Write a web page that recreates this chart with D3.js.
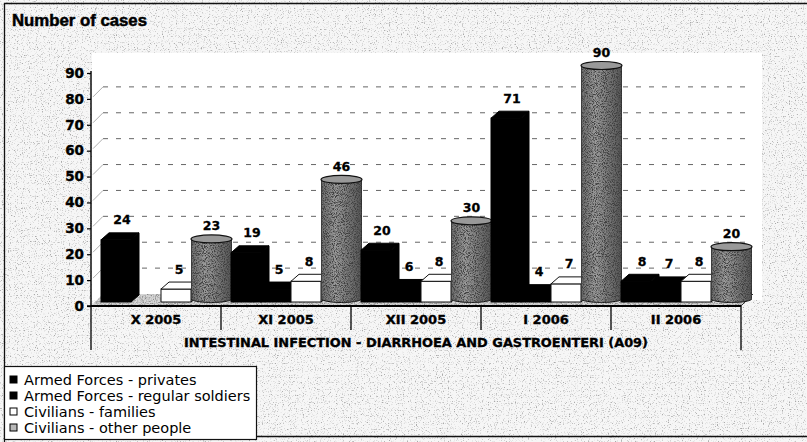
<!DOCTYPE html>
<html>
<head>
<meta charset="utf-8">
<script src="https://cdn.jsdelivr.net/npm/d3@7"></script>
<style>
  html, body { margin: 0; padding: 0; background: #fff; }
  svg { display: block; }
</style>
</head>
<body>
<div id="chart"></div>
<script>
// ---- data ----
const categories = ["X 2005", "XI 2005", "XII 2005", "I 2006", "II 2006"];
const seriesNames = [
  "Armed Forces - privates",
  "Armed Forces - regular soldiers",
  "Civilians - families",
  "Civilians - other people"
];
const privates        = [24, 19, 20, 71, 8];
const regularSoldiers = [null, 5, 6, 4, 7];
const families        = [5, 8, 8, 7, 8];
const otherPeople     = [23, 46, 30, 90, 20];
const yTicks = [0, 10, 20, 30, 40, 50, 60, 70, 80, 90];
const yTitle = "Number of cases";
const xTitle = "INTESTINAL INFECTION - DIARRHOEA AND GASTROENTERI (A09)";

const seriesValues = [privates, regularSoldiers, families, otherPeople];

// ---- layout ----
const W = 807, H = 442;
const svg = d3.select("#chart").append("svg")
  .attr("width", W).attr("height", H)
  .attr("viewBox", `0 0 ${W} ${H}`);

const y = d3.scaleLinear().domain([0, 90]).range([306, 73]);
const x0 = d3.scaleBand().domain(categories).range([91, 741]).paddingInner(0).paddingOuter(0);
const x1 = d3.scaleBand().domain(d3.range(seriesNames.length))
  .range([10, x0.bandwidth()]).paddingInner(0).paddingOuter(0);

const wall = { dx: 12, dy: -12 };   // depth of back wall / floor
const lift = -4;                    // bars stand half-way into the floor
const depth = { dx: 8, dy: -7 };    // depth of each box

// ---- textures ----
const defs = svg.append("defs");
function grainFilter(id, seed, freq, slope, bias, tone) {
  const f = defs.append("filter").attr("id", id)
    .attr("x", 0).attr("y", 0).attr("width", 1).attr("height", 1);
  f.append("feTurbulence").attr("type", "fractalNoise")
    .attr("baseFrequency", freq).attr("numOctaves", 2).attr("seed", seed).attr("result", "noise");
  f.append("feColorMatrix").attr("in", "noise").attr("type", "matrix")
    .attr("values", `0 0 0 0 ${tone}  0 0 0 0 ${tone}  0 0 0 0 ${tone}  0 0 0 ${slope} ${bias}`)
    .attr("result", "dots");
  f.append("feComposite").attr("in", "dots").attr("in2", "SourceGraphic")
    .attr("operator", "in").attr("result", "clipped");
  const m = f.append("feMerge");
  m.append("feMergeNode").attr("in", "SourceGraphic");
  m.append("feMergeNode").attr("in", "clipped");
}
grainFilter("paperGrain", 7, 0.85, -4, 1.75, 0.4);
grainFilter("floorGrain", 11, 0.9, -3, 1.75, 0.25);
grainFilter("cylGrain", 3, 1.1, -3.5, 2.1, 0.05);

const cylGrad = defs.append("linearGradient").attr("id", "cylShade")
  .attr("x1", 0).attr("x2", 1).attr("y1", 0).attr("y2", 0);
cylGrad.append("stop").attr("offset", "0%").attr("stop-color", "#6a6a6a");
cylGrad.append("stop").attr("offset", "35%").attr("stop-color", "#9c9c9c");
cylGrad.append("stop").attr("offset", "100%").attr("stop-color", "#555555");

// ---- background ----
svg.append("rect").attr("x", 0).attr("y", 0).attr("width", W).attr("height", H)
  .attr("fill", "#f6f6f6").attr("filter", "url(#paperGrain)");
// white plot area
svg.append("rect").attr("x", 92).attr("y", 53).attr("width", 670).attr("height", 247)
  .attr("fill", "#ffffff");

// outer frame
svg.append("path")
  .attr("d", `M4.5,${H} L4.5,3.5 L${W},3.5 M4.5,436.5 L${W},436.5`)
  .attr("fill", "none").attr("stroke", "#111").attr("stroke-width", 1.3);

// ---- title ----
svg.append("text")
  .attr("x", 12).attr("y", 26)
  .attr("font-family", "'Liberation Sans', Arial, sans-serif")
  .attr("font-weight", "bold").attr("font-size", 16)
  .attr("textLength", 135).attr("lengthAdjust", "spacingAndGlyphs")
  .attr("fill", "#000").attr("stroke", "#000").attr("stroke-width", 0.5)
  .text(yTitle);

// ---- floor ----
const x0Start = x0.range()[0], x0End = x0.range()[1];
svg.append("path")
  .attr("d", `M${x0Start},${y(0)} L${x0End},${y(0)} L${x0End + wall.dx},${y(0) + wall.dy} L${x0Start + wall.dx},${y(0) + wall.dy} Z`)
  .attr("fill", "#d6d6d6").attr("filter", "url(#floorGrain)");
svg.append("line")
  .attr("x1", x0End).attr("y1", y(0)).attr("x2", x0End + wall.dx).attr("y2", y(0) + wall.dy)
  .attr("stroke", "#333").attr("stroke-width", 1);

// ---- gridlines on back wall ----
const grid = svg.append("g");
yTicks.filter(t => t > 0 && t < 90).forEach(t => {
  grid.append("line")
    .attr("x1", x0Start + wall.dx).attr("x2", x0End + wall.dx)
    .attr("y1", y(t) + wall.dy).attr("y2", y(t) + wall.dy)
    .attr("stroke", "#666").attr("stroke-width", 1)
    .attr("stroke-dasharray", "5,8");
  grid.append("line")
    .attr("x1", x0Start + 2).attr("y1", y(t) - 2)
    .attr("x2", x0Start + wall.dx).attr("y2", y(t) + wall.dy)
    .attr("stroke", "#999").attr("stroke-width", 0.8);
});

// ---- y axis ----
const yAxisG = svg.append("g").attr("transform", `translate(${x0Start},0)`)
  .call(d3.axisLeft(y).tickValues(yTicks).tickSize(4).tickPadding(3).tickFormat(d3.format("d")));
yAxisG.select(".domain").attr("d", `M-4,${y(0)}H0V${y(90) - 2}`).attr("stroke", "#000").attr("stroke-width", 1.4);
yAxisG.selectAll(".tick line").attr("stroke", "#000").attr("stroke-width", 1.2);
yAxisG.selectAll(".tick text")
  .attr("font-family", "'DejaVu Sans', Verdana, sans-serif")
  .attr("font-weight", "bold").attr("font-size", 13.5).attr("fill", "#000")
  .attr("stroke", "#000").attr("stroke-width", 0.4);

// ---- bars ----
const bars = svg.append("g");
const labels = svg.append("g")
  .attr("font-family", "'DejaVu Sans', Verdana, sans-serif")
  .attr("font-weight", "bold").attr("font-size", 12.5)
  .attr("text-anchor", "middle").attr("fill", "#000")
  .attr("stroke", "#000").attr("stroke-width", 0.3);

function drawBox(g, x, w, v, fill, topFill, sideFill, stroke) {
  const yt = y(v) + lift, yb = y(0) + lift;
  const side = [[x + w, yb], [x + w, yt], [x + w + depth.dx, yt + depth.dy], [x + w + depth.dx, yb + depth.dy]];
  const top = [[x, yt], [x + w, yt], [x + w + depth.dx, yt + depth.dy], [x + depth.dx, yt + depth.dy]];
  g.append("polygon").attr("points", side.join(" ")).attr("fill", sideFill).attr("stroke", stroke).attr("stroke-width", 1).attr("stroke-linejoin", "round");
  g.append("rect").attr("x", x).attr("y", yt).attr("width", w).attr("height", yb - yt)
    .attr("fill", fill).attr("stroke", stroke).attr("stroke-width", 1);
  g.append("polygon").attr("points", top.join(" ")).attr("fill", topFill).attr("stroke", stroke).attr("stroke-width", 1).attr("stroke-linejoin", "round");
  return yt + depth.dy;
}

function drawCylinder(g, x, w, v) {
  const r = (w + depth.dx) / 2 + 1.5;
  const cx = x + w / 2 + depth.dx / 2 + 1.5;
  const ry = 4;
  const yt = y(v) + lift + depth.dy / 2, yb = y(0) + lift + depth.dy / 2;
  g.append("path")
    .attr("d", `M${cx - r},${yt} L${cx - r},${yb} A${r},${ry} 0 0 0 ${cx + r},${yb} L${cx + r},${yt} Z`)
    .attr("fill", "url(#cylShade)").attr("stroke", "#111").attr("stroke-width", 1)
    .attr("filter", "url(#cylGrain)");
  g.append("ellipse").attr("cx", cx).attr("cy", yt).attr("rx", r).attr("ry", ry)
    .attr("fill", "#999").attr("stroke", "#111").attr("stroke-width", 1.2);
  return { cx, top: yt };
}

categories.forEach((cat, ci) => {
  const bx = x0(cat);
  seriesValues.forEach((vals, si) => {
    const v = vals[ci];
    if (v == null) return;
    const x = bx + x1(si), w = x1.bandwidth();
    let lx, ly;
    if (si === 3) {
      const c = drawCylinder(bars, x, w, v);
      lx = c.cx; ly = c.top - 8.5;
    } else if (si === 2) {
      const backTop = drawBox(bars, x, w, v, "#ffffff", "#ffffff", "#dcdcdc", "#111");
      lx = x + w / 2 + 3; ly = backTop - 8.5;
    } else {
      const backTop = drawBox(bars, x, w, v, "#000", "#000", "#000", "#000");
      lx = x + w / 2 + (si === 0 ? 6 : 3); ly = backTop - 8.5;
    }
    labels.append("text").attr("x", lx).attr("y", ly).text(v);
  });
});

// ---- x axis with category cells ----
const xAxisG = svg.append("g");
xAxisG.append("line").attr("x1", x0Start).attr("x2", x0End).attr("y1", y(0)).attr("y2", y(0))
  .attr("stroke", "#000").attr("stroke-width", 2);
const bounds = categories.map(c => x0(c)).concat([x0End]);
bounds.forEach((bx, i) => {
  const outer = i === 0 || i === bounds.length - 1;
  xAxisG.append("line").attr("x1", bx).attr("x2", bx)
    .attr("y1", y(0)).attr("y2", outer ? 350 : 330)
    .attr("stroke", "#000").attr("stroke-width", 1.3);
});
xAxisG.selectAll("text.cat").data(categories).join("text")
  .attr("class", "cat")
  .attr("x", d => x0(d) + x0.bandwidth() / 2)
  .attr("y", 324)
  .attr("text-anchor", "middle")
  .attr("font-family", "'DejaVu Sans', Verdana, sans-serif")
  .attr("font-weight", "bold").attr("font-size", 13)
  .attr("fill", "#000").attr("stroke", "#000").attr("stroke-width", 0.35)
  .text(d => d);
xAxisG.append("text")
  .attr("x", (x0Start + x0End) / 2).attr("y", 347)
  .attr("text-anchor", "middle")
  .attr("font-family", "'DejaVu Sans', Verdana, sans-serif")
  .attr("font-weight", "bold").attr("font-size", 13)
  .attr("textLength", 464).attr("lengthAdjust", "spacingAndGlyphs")
  .attr("fill", "#000").attr("stroke", "#000").attr("stroke-width", 0.35)
  .text(xTitle);

// ---- legend ----
const legend = svg.append("g");
legend.append("rect").attr("x", 4.5).attr("y", 366.5).attr("width", 252).attr("height", 73)
  .attr("fill", "#ffffff").attr("stroke", "#111").attr("stroke-width", 1.2);
const swatch = [
  { fill: "#000", stroke: "#000" },
  { fill: "#000", stroke: "#000" },
  { fill: "#fff", stroke: "#000" },
  { fill: "#b8b8b8", stroke: "#000" }
];
seriesNames.forEach((name, i) => {
  const cy = 380 + i * 16;
  legend.append("rect").attr("x", 10).attr("y", cy - 4).attr("width", 7).attr("height", 7)
    .attr("fill", swatch[i].fill).attr("stroke", swatch[i].stroke).attr("stroke-width", 1);
  legend.append("text").attr("x", 24).attr("y", cy + 5)
    .attr("font-family", "'DejaVu Sans', Verdana, sans-serif")
    .attr("font-size", 14.5).attr("fill", "#000")
    .text(name);
});
</script>
</body>
</html>
